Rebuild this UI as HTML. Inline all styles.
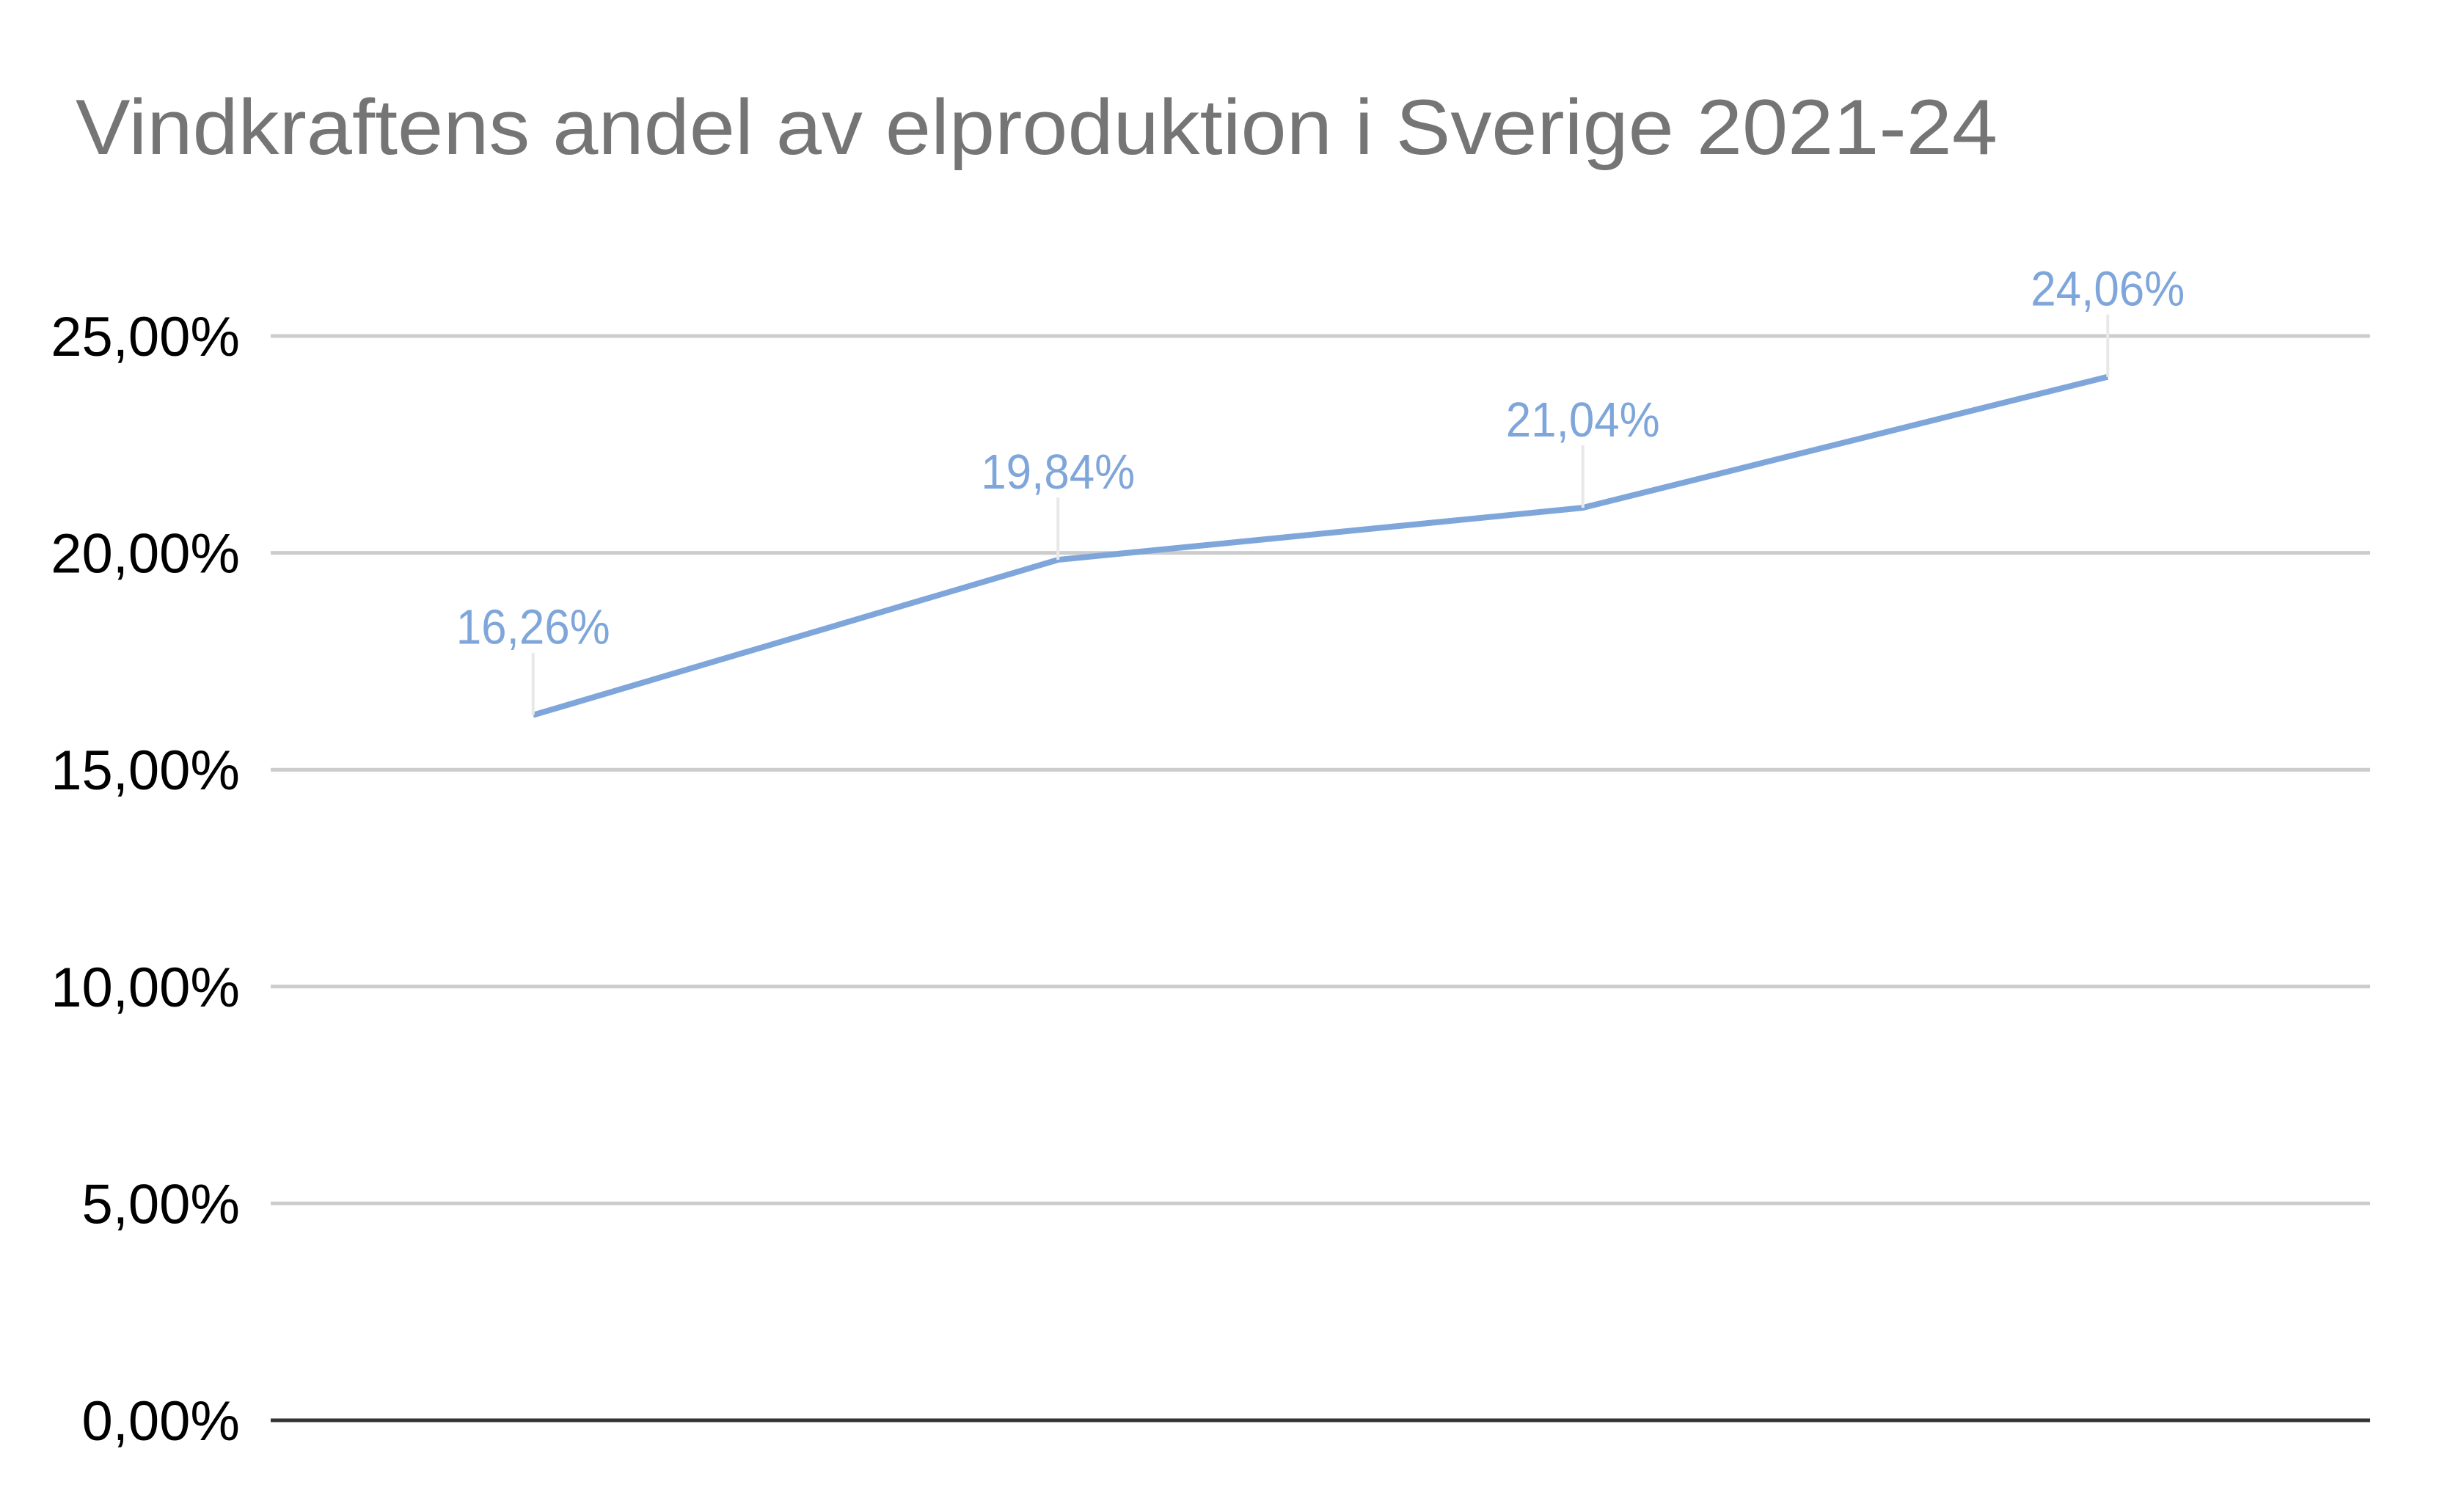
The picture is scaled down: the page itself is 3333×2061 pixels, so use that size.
<!DOCTYPE html>
<html><head><meta charset="utf-8"><style>
html,body{margin:0;padding:0;background:#fff}
svg{display:block}
text{font-family:"Liberation Sans",Arial,sans-serif}
</style></head><body>
<svg id="chart" width="3333" height="2061" viewBox="0 0 3333 2061" xmlns="http://www.w3.org/2000/svg">
<rect width="3333" height="2061" fill="#fff"/>
<text x="103" y="210" font-size="107" fill="#757575" textLength="2620" lengthAdjust="spacingAndGlyphs">Vindkraftens andel av elproduktion i Sverige 2021-24</text>
<g id="grid"></g><g id="ticks"></g><g id="series"></g><g id="labels"></g>
</svg>
<script>
const categories = ["2021", "2022", "2023", "2024"];
const values = [16.26, 19.84, 21.04, 24.06];
const valueLabels = ["16,26%", "19,84%", "21,04%", "24,06%"];
const tickValues = [0, 5, 10, 15, 20, 25];
const tickLabels = ["0,00%", "5,00%", "10,00%", "15,00%", "20,00%", "25,00%"];

const NS = "http://www.w3.org/2000/svg";
const X0 = 369, X1 = 3231, Y0 = 1936, YTOP = 458, VMAX = 25;
function yScale(v){ return Y0 - (v / VMAX) * (Y0 - YTOP); }
function xScale(i){ const band = (X1 - X0) / categories.length; return X0 + band * (i + 0.5); }
function mk(tag, attrs, parent){ const e = document.createElementNS(NS, tag); for (const k in attrs) e.setAttribute(k, attrs[k]); parent.appendChild(e); return e; }

const grid = document.getElementById('grid');
const ticks = document.getElementById('ticks');
tickValues.forEach((v, i) => {
  const y = yScale(v);
  const ln = mk('line', {x1: X0, x2: X1, y1: y, y2: y, stroke: v === 0 ? '#333' : '#cccccc', 'stroke-width': v === 0 ? 5 : 5}, grid);
  
  
  const t = mk('text', {x: 327, y: y + 27, 'font-size': 76, fill: '#000', 'text-anchor': 'end'}, ticks);
  t.textContent = tickLabels[i];
  
  
});

const series = document.getElementById('series');
const labels = document.getElementById('labels');
values.forEach((v, i) => {
  const x = xScale(i), y = yScale(v);
  const lead = mk('line', {x1: x, x2: x, y1: y - 85, y2: y, stroke: '#e8e8e8', 'stroke-width': 4}, labels);
  
  
});
const pts = values.map((v, i) => xScale(i) + ',' + yScale(v)).join(' ');
const pl = mk('polyline', {points: pts, fill: 'none', stroke: '#7fa6da', 'stroke-width': 8, 'stroke-linejoin': 'round'}, series);


values.forEach((v, i) => {
  const x = xScale(i), y = yScale(v);
  const t = mk('text', {x: x - 105, y: y - 97, 'font-size': 67, fill: '#7fa6da', textLength: 210, lengthAdjust: 'spacingAndGlyphs'}, labels);
  t.textContent = valueLabels[i];
  
  
});
</script>
</body></html>
